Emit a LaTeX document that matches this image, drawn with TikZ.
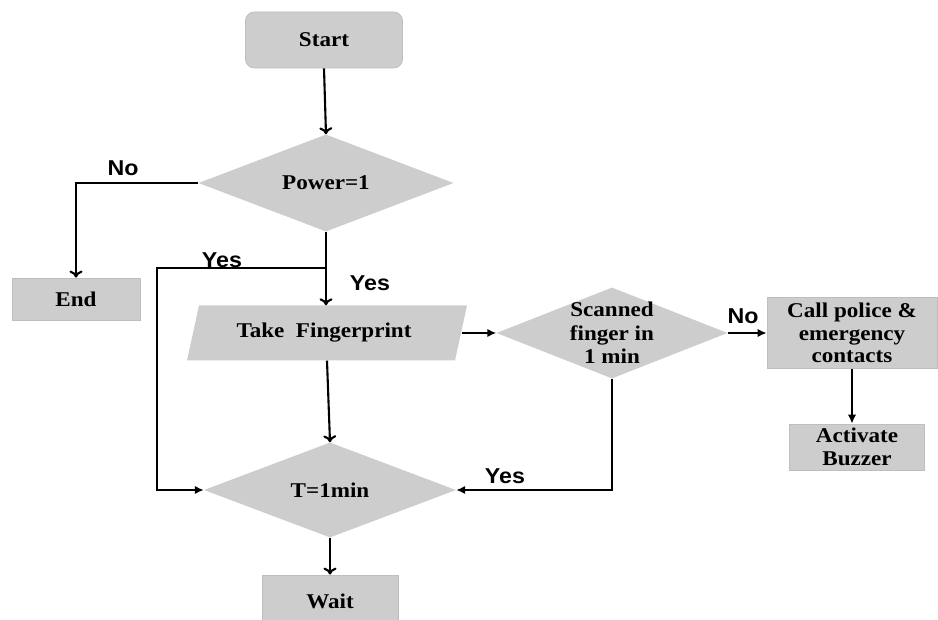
\documentclass[tikz,border=0pt]{standalone}
\usepackage{fontspec}
\setmainfont{Liberation Serif}[FakeStretch=1.1]
\newfontfamily\labfont{Liberation Sans}[FakeStretch=1.08]
\usetikzlibrary{shapes.geometric,arrows.meta}
\definecolor{boxgray}{RGB}{205,205,205}
\definecolor{edgegray}{RGB}{190,190,190}
\tikzset{
  txt/.style={font=\fontsize{21}{23.5}\selectfont\bfseries, align=center},
  boxnode/.style={rectangle, fill=boxgray, draw=edgegray, line width=0.8pt, inner sep=0pt},
  dia/.style={diamond, fill=boxgray, draw=none, inner sep=0pt, aspect=1},
  anchorbox/.style={rectangle, draw=none, inner sep=0pt},
  conn/.style={line width=2.1pt, black},
  openarr/.style={conn, -{To[length=7pt,width=13pt,line width=2.1pt]}},
  fillarr/.style={conn, -{Latex[length=9pt,width=8.5pt]}},
  lab/.style={font=\labfont\fontsize{21.5}{24}\selectfont\bfseries, inner sep=0pt}
}
\begin{document}
\begin{tikzpicture}[x=1pt,y=-1pt]
\clip (0,0) rectangle (938,620);
\fill[white] (0,0) rectangle (938,620);

% nodes
\node[boxnode, rounded corners=9pt, minimum width=157pt, minimum height=56pt] (start) at (324,40) {};
\node[txt] at (start) {Start};

\node[dia, minimum width=255pt, minimum height=97pt] (power) at (326,183) {};
\node[txt] at (power) {Power=1};

\node[boxnode, minimum width=128pt, minimum height=42pt] (endb) at (76,299) {};
\node[txt] at (endb) {End};

\node[anchorbox, minimum width=270pt, minimum height=55pt] (take) at (327,333) {};
\fill[boxgray] (187,360.5) -- (199,305.5) -- (467,305.5) -- (455,360.5) -- cycle;
\node[txt] at (324,333) {Take\ \ Fingerprint};

\node[dia, minimum width=231pt, minimum height=91pt] (scan) at (612,333) {};
\node[txt] at (scan) {Scanned\\finger in\\1 min};

\node[boxnode, minimum width=170pt, minimum height=71pt] (call) at (852,333) {};
\node[txt, font=\fontsize{21}{22.5}\selectfont\bfseries] at (call) {Call police \&\\emergency\\contacts};

\node[boxnode, minimum width=135pt, minimum height=46pt] (buzz) at (857,447) {};
\node[txt, font=\fontsize{21}{23}\selectfont\bfseries] at (buzz) {Activate\\Buzzer};

\node[dia, minimum width=252pt, minimum height=95pt] (tmin) at (330,490) {};
\node[txt] at (tmin) {T=1min};

\node[boxnode, minimum width=136pt, minimum height=56pt] (wait) at (330,603) {};
\node[txt] at (330,601) {Wait};

% connectors
\coordinate (j1) at (326,268);
\coordinate (c1) at (157,268);

\draw[openarr] (start.south) -- (power.north);
\draw[openarr] (power.west) -| (endb.north);
\draw[openarr] (power.south) -- (power.south |- take.north);
\draw[fillarr] (j1) -- (c1) |- (tmin.west);
\draw[fillarr] (take.east) -- (scan.west);
\draw[fillarr] (scan.east) -- (call.west);
\draw[fillarr] (call.south) -- (call.south |- buzz.north);
\draw[openarr] (take.south) -- (tmin.north);
\draw[fillarr] (scan.south) |- (tmin.east);
\draw[openarr] (tmin.south) -- (wait.north);

% labels
\node[lab] (lno1) at (123,168) {No};
\node[lab] (lyes1) at (222,260) {Yes};
\node[lab] (lyes2) at (370,283) {Yes};
\node[lab] (lno2) at (743,316) {No};
\node[lab] (lyes3) at (505,476) {Yes};
\end{tikzpicture}
\end{document}
